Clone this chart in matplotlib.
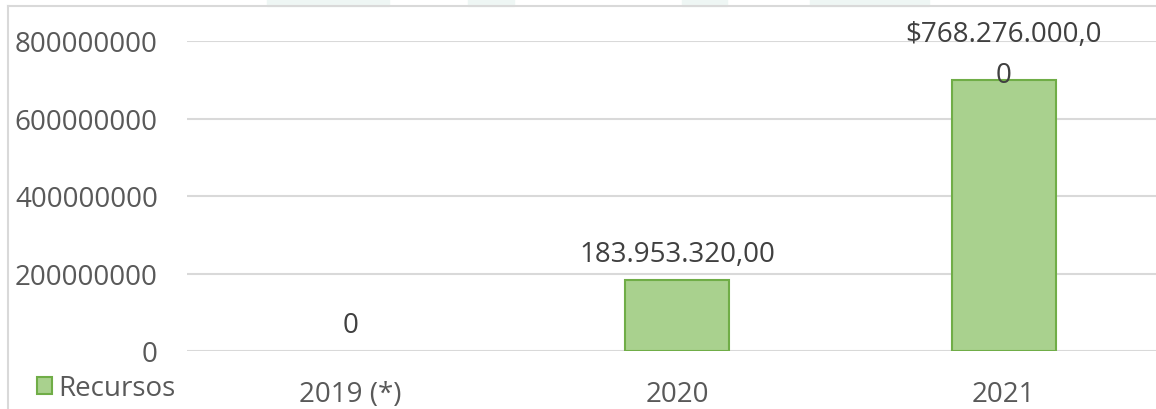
import matplotlib
matplotlib.use("Agg")
import matplotlib.pyplot as plt
from matplotlib.patches import Rectangle, Patch
from matplotlib.lines import Line2D

categories = ["2019 (*)", "2020", "2021"]
values = [0, 183953320, 700000000]
labels = ["0", "183.953.320,00", "$768.276.000,0\n0"]
yticks = [0, 200000000, 400000000, 600000000, 800000000]
series_name = "Recursos"

W, H = 1156, 410
plt.rcParams['font.family'] = ['Open Sans', 'DejaVu Sans']
fig = plt.figure(figsize=(W / 100, H / 100), dpi=100)

def fx(px):
    return px / W

def fy(py):
    return 1 - py / H

FS = 20
FILL, EDGE = "#a9d18e", "#70ad47"

# faint watermark shapes at top
wm = "#eef6f4"
for x0, x1 in [(267, 389), (468, 514), (682, 727), (810, 929)]:
    fig.patches.append(Rectangle((fx(x0), fy(7)), fx(x1 - x0), 7 / H,
                                 transform=fig.transFigure, color=wm, zorder=0))

# chart frame (top and left)
fig.lines.append(Line2D([fx(8), 1], [fy(7), fy(7)], transform=fig.transFigure,
                        color="#d9d9d9", lw=1.5))
fig.lines.append(Line2D([fx(8), fx(8)], [fy(7), 0], transform=fig.transFigure,
                        color="#d9d9d9", lw=1.5))

left, right, top, bottom = 187, 1167, 42, 352
ax = fig.add_axes([fx(left), fy(bottom), fx(right - left), (bottom - top) / H])
ax.set_facecolor("none")

x = list(range(len(categories)))
bars = ax.bar(x, values, width=0.318, color=FILL, edgecolor=EDGE,
              linewidth=1.5, zorder=3)
for b, v in zip(bars, values):
    if v == 0:
        b.set_visible(False)
ax.set_xlim(-0.5, 2.5)
ax.set_ylim(0, 800000000)
ax.set_yticks(yticks)
ax.set_yticklabels([str(v) for v in yticks])
ax.set_xticks(x)
ax.set_xticklabels(categories)
ax.yaxis.grid(True, color="#d9d9d9", lw=1.5, zorder=0)
ax.set_axisbelow(True)
for s in ax.spines.values():
    s.set_visible(False)
ax.tick_params(axis="both", length=0, labelsize=FS, labelcolor="#595959")
ax.tick_params(axis="y", pad=21)
ax.tick_params(axis="x", pad=21)

for xi, v, lab in zip(x, values, labels):
    if "\n" in lab:
        ax.annotate(lab, (xi, v), xytext=(0, -1.5), textcoords="offset points",
                    ha="center", va="baseline", fontsize=FS, color="#404040",
                    linespacing=1.6, zorder=5)
    else:
        ax.annotate(lab, (xi, v), xytext=(0, 13.5), textcoords="offset points",
                    ha="center", va="baseline", fontsize=FS, color="#404040",
                    zorder=5)

handle = Patch(facecolor=FILL, edgecolor=EDGE, linewidth=1.5)
leg = fig.legend(handles=[handle], labels=[series_name], loc="center left",
                 bbox_to_anchor=(fx(37), fy(389)), frameon=False, fontsize=FS,
                 handlelength=0.55, handleheight=0.55, handletextpad=0.2,
                 borderaxespad=0, borderpad=0)
for t in leg.get_texts():
    t.set_color("#595959")

fig.savefig("out.png", dpi=100)
